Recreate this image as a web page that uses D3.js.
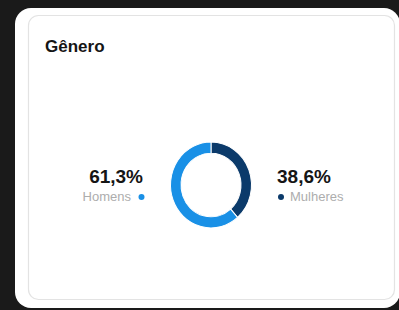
<!DOCTYPE html>
<html><head><meta charset="utf-8">
<script src="https://cdn.jsdelivr.net/npm/d3@7"></script>
<style>html,body{margin:0;padding:0;background:#1a1a1a;overflow:hidden}</style>
</head><body>
<svg id="c" width="399" height="310"></svg>
<script>
const title = "Gênero";
const categories = ["Homens", "Mulheres"];
const values = [61.3, 38.6];
const labels = ["61,3%", "38,6%"];
const colors = ["#1990e6", "#0b3a6a"];

const svg = d3.select("#c");
svg.append("rect").attr("x",0).attr("y",0).attr("width",399).attr("height",310).attr("fill","#1a1a1a");
svg.append("rect").attr("x",15).attr("y",8).attr("width",385).attr("height",300).attr("rx",16).attr("fill","#ffffff");
svg.append("rect").attr("x",28.5).attr("y",15.5).attr("width",366).attr("height",284).attr("rx",10)
  .attr("fill","#ffffff").attr("stroke","#e3e3e3").attr("stroke-width",1.2);

const font = "'Liberation Sans', Arial, sans-serif";
svg.append("text").attr("x",45).attr("y",52).text(title)
  .attr("font-family",font).attr("font-weight",700).attr("font-size",17).attr("fill","#151515");

// donut: dark segment (Mulheres) from top clockwise, then Homens
const order = [1, 0];
const pie = d3.pie().sort(null).value(i => values[i]);
const arcs = pie(order);
const arc = d3.arc().innerRadius(30).outerRadius(40.5);
const g = svg.append("g").attr("transform","translate(211,185) scale(1,1.06)");
g.selectAll("path").data(arcs).join("path")
  .attr("d", arc).attr("fill", d => colors[d.data])
  .attr("stroke","#ffffff").attr("stroke-width",1);

// left label
svg.append("text").attr("x",143).attr("y",183).attr("text-anchor","end").text(labels[0])
  .attr("font-family",font).attr("font-weight",700).attr("font-size",19).attr("fill","#151515");
svg.append("text").attr("x",131).attr("y",201).attr("text-anchor","end").text(categories[0])
  .attr("font-family",font).attr("font-size",13).attr("fill","#adadad");
svg.append("circle").attr("cx",141.5).attr("cy",197).attr("r",3).attr("fill",colors[0]);
// right label
svg.append("text").attr("x",277).attr("y",183).text(labels[1])
  .attr("font-family",font).attr("font-weight",700).attr("font-size",19).attr("fill","#151515");
svg.append("circle").attr("cx",281).attr("cy",197).attr("r",3).attr("fill",colors[1]);
svg.append("text").attr("x",290).attr("y",201).text(categories[1])
  .attr("font-family",font).attr("font-size",13).attr("fill","#adadad");
</script>
</body></html>
